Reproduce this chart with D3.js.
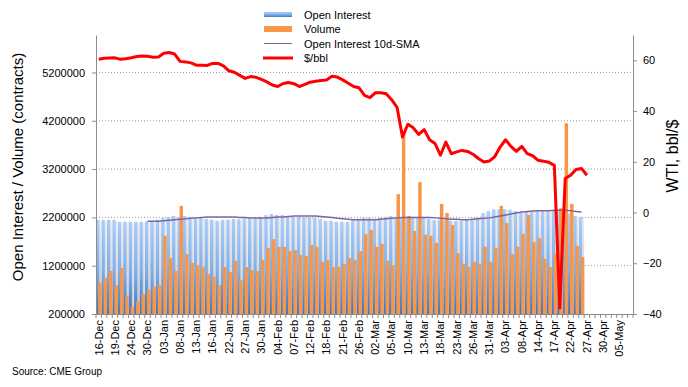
<!doctype html>
<html lang='en'>
<head>
    <meta charset='UTF-8'>
    <title>WTI open interest and volume</title>
    <style>
        body,html{
            margin: 0;
            padding: 0;
            background: #fff;
            font-family: 'Liberation Sans', Arial, sans-serif;
        }
        .axis path,
        .axis line{
            fill: none;
            stroke: #8c8c8c;
        }
        .axis text{
            fill: #000;
            font-size: 11px;
            font-family: 'Liberation Sans', Arial, sans-serif;
        }
        .grid line{
            stroke: #9a9a9a;
            stroke-dasharray: 1,2;
        }
        .legend text{
            font-size: 11px;
        }
    </style>
</head>
<body>
<script src='https://d3js.org/d3.v7.min.js'></script>
<script>
  // trading days, a label every third one
  const dates = ['16-Dec','17-Dec','18-Dec','19-Dec','20-Dec','23-Dec','24-Dec','26-Dec','27-Dec','30-Dec','31-Dec',
    '02-Jan','03-Jan','06-Jan','07-Jan','08-Jan','09-Jan','10-Jan','13-Jan','14-Jan','15-Jan','16-Jan','17-Jan','21-Jan',
    '22-Jan','23-Jan','24-Jan','27-Jan','28-Jan','29-Jan','30-Jan','31-Jan',
    '03-Feb','04-Feb','05-Feb','06-Feb','07-Feb','10-Feb','11-Feb','12-Feb','13-Feb','14-Feb','18-Feb','19-Feb','20-Feb',
    '21-Feb','24-Feb','25-Feb','26-Feb','27-Feb','28-Feb',
    '02-Mar','03-Mar','04-Mar','05-Mar','06-Mar','09-Mar','10-Mar','11-Mar','12-Mar','13-Mar','16-Mar','17-Mar','18-Mar',
    '19-Mar','20-Mar','23-Mar','24-Mar','25-Mar','26-Mar','27-Mar','30-Mar','31-Mar',
    '01-Apr','02-Apr','03-Apr','06-Apr','07-Apr','08-Apr','09-Apr','13-Apr','14-Apr','15-Apr','16-Apr','17-Apr','20-Apr',
    '21-Apr','22-Apr','23-Apr','24-Apr','27-Apr','28-Apr','29-Apr','30-Apr',
    '01-May','04-May','05-May','06-May','07-May']

  const openInterest = [2150000,2150000,2150000,2150000,2110000,2110000,2110000,2110000,2110000,2120000,
    2130000,2150000,2190000,2210000,2230000,2210000,2230000,2210000,2210000,2190000,
    2170000,2150000,2130000,2150000,2150000,2170000,2160000,2180000,2180000,2180000,
    2210000,2250000,2270000,2250000,2250000,2210000,2210000,2210000,2210000,2210000,
    2190000,2170000,2130000,2130000,2110000,2110000,2110000,2150000,2170000,2190000,
    2190000,2170000,2190000,2210000,2230000,2210000,2200000,2200000,2210000,2200000,
    2190000,2170000,2150000,2150000,2140000,2130000,2130000,2130000,2150000,2170000,
    2210000,2290000,2330000,2370000,2370000,2370000,2360000,2330000,2310000,2330000,
    2330000,2330000,2330000,2330000,2350000,2370000,2350000,2280000,2230000,2210000]

  const volume = [840000,950000,1090000,800000,1150000,570000,350000,470000,610000,700000,
    760000,800000,1820000,1360000,1090000,2440000,1440000,1260000,1210000,1170000,
    1030000,970000,800000,1170000,1070000,1300000,900000,1170000,1110000,1090000,
    1320000,1570000,1750000,1590000,1590000,1500000,1520000,1420000,1400000,1630000,
    1590000,1280000,1320000,1170000,1170000,1240000,1360000,1320000,1500000,1850000,
    1940000,1590000,1650000,1300000,1210000,2680000,3940000,2230000,1920000,2930000,
    1840000,1820000,1670000,2480000,2290000,2040000,1460000,1240000,1170000,1280000,
    1240000,1590000,1280000,1570000,2440000,2080000,1440000,1590000,1860000,2250000,
    1690000,1770000,1340000,1170000,1460000,2390000,4150000,2480000,1610000,1380000]

  const oiSma = [null,null,null,null,null,null,null,null,null,2120000,
    2120000,2120000,2130000,2140000,2150000,2160000,2170000,2180000,2190000,2200000,
    2210000,2210000,2210000,2210000,2210000,2210000,2200000,2200000,2190000,2190000,
    2190000,2190000,2200000,2210000,2210000,2220000,2230000,2230000,2230000,2230000,
    2230000,2220000,2210000,2200000,2180000,2170000,2160000,2150000,2150000,2150000,
    2150000,2150000,2160000,2170000,2180000,2190000,2200000,2200000,2200000,2200000,
    2200000,2200000,2190000,2180000,2170000,2160000,2160000,2150000,2150000,2160000,
    2170000,2180000,2190000,2210000,2230000,2250000,2270000,2290000,2310000,2320000,
    2330000,2340000,2340000,2340000,2350000,2350000,2350000,2340000,2320000,2310000]

  const wti = [60.4,60.8,60.9,61.0,60.4,60.6,61.0,61.5,61.7,61.6,
    61.2,61.3,62.8,63.1,62.5,59.6,59.4,59.0,58.1,58.1,
    58.0,58.8,58.8,57.8,55.9,55.3,54.1,52.9,53.6,53.3,
    52.5,51.5,50.3,49.7,50.9,51.3,50.8,49.7,50.5,51.4,
    51.8,52.1,52.3,53.7,53.4,52.3,51.0,49.7,49.2,46.2,
    45.3,47.2,47.2,46.8,44.5,41.5,29.8,34.8,33.4,30.8,
    32.7,28.7,27.2,22.6,27.8,23.2,23.9,24.5,24.1,23.0,
    21.3,19.9,20.3,22.0,25.8,28.7,26.1,24.1,26.1,23.2,
    22.4,20.6,20.2,19.8,18.6,-37.6,13.4,14.7,17.0,17.4,14.7]

  const leftTicks = [200000,1200000,2200000,3200000,4200000,5200000]
  const rightTicks = [-40,-20,0,20,40,60]

  const w = 688
  const h = 387
  const plot = {left: 96, right: 633, top: 35, bottom: 314}

  const x = d3.scaleBand()
    .domain(dates)
    .range([plot.left, plot.right])
  const bw = x.bandwidth()

  const yLeft = d3.scaleLinear()
    .domain([200000, 5976000])
    .range([plot.bottom, plot.top])

  const yRight = d3.scaleLinear()
    .domain([-40, 70])
    .range([plot.bottom, plot.top])

  const svg = d3.select('body').append('svg')
    .attr('width', w)
    .attr('height', h)

  const defs = svg.append('defs')
  const grad = defs.append('linearGradient')
    .attr('id', 'oiGrad')
    .attr('x1', 0).attr('y1', 0).attr('x2', 0).attr('y2', 1)
  grad.append('stop').attr('offset', '0%').attr('stop-color', '#abcdf8')
  grad.append('stop').attr('offset', '55%').attr('stop-color', '#7eaeea')
  grad.append('stop').attr('offset', '100%').attr('stop-color', '#3c76c6')

  const shadeGrad = defs.append('linearGradient')
    .attr('id', 'shadeGrad')
    .attr('x1', 0).attr('y1', 0).attr('x2', 0).attr('y2', 1)
  shadeGrad.append('stop').attr('offset', '0%').attr('stop-color', '#ececec')
  shadeGrad.append('stop').attr('offset', '100%').attr('stop-color', '#c9c9c9')

  // dotted gridlines
  svg.append('g')
    .attr('class', 'grid')
    .selectAll('line')
    .data(leftTicks.slice(1))
    .enter()
    .append('line')
    .attr('x1', plot.left)
    .attr('x2', plot.right)
    .attr('y1', d => yLeft(d))
    .attr('y2', d => yLeft(d))

  const bars = svg.append('g')
  const oiData = openInterest.map((v, i) => ({key: dates[i], value: v}))
  const volData = volume.map((v, i) => ({key: dates[i], value: v}))

  // soft shadow to the right of the open interest bars
  bars.selectAll('.shade')
    .data(oiData)
    .enter()
    .append('rect')
    .attr('x', d => x(d.key) + bw * 0.35)
    .attr('y', d => yLeft(d.value) + 1)
    .attr('width', bw * 0.62)
    .attr('height', d => plot.bottom - yLeft(d.value) - 1)
    .style('fill', 'url(#shadeGrad)')

  bars.selectAll('.oi')
    .data(oiData)
    .enter()
    .append('rect')
    .attr('class', 'oi')
    .attr('x', d => x(d.key) + bw * 0.02)
    .attr('y', d => yLeft(d.value))
    .attr('width', bw * 0.6)
    .attr('height', d => plot.bottom - yLeft(d.value))
    .style('fill', 'url(#oiGrad)')

  bars.selectAll('.vol')
    .data(volData)
    .enter()
    .append('rect')
    .attr('class', 'vol')
    .attr('x', d => x(d.key) + bw * 0.4)
    .attr('y', d => yLeft(d.value))
    .attr('width', bw * 0.64)
    .attr('height', d => plot.bottom - yLeft(d.value))
    .style('fill', '#f79646')

  const cx = i => x(dates[i]) + bw / 2

  const smaLine = d3.line()
    .defined(d => d !== null)
    .x((d, i) => cx(i))
    .y(d => yLeft(d))

  svg.append('path')
    .datum(oiSma)
    .attr('d', smaLine)
    .style('fill', 'none')
    .style('stroke', '#8064a2')
    .style('stroke-width', 1.5)

  const priceLine = d3.line()
    .x((d, i) => cx(i))
    .y(d => yRight(d))

  svg.append('path')
    .datum(wti)
    .attr('d', priceLine)
    .style('fill', 'none')
    .style('stroke', '#ff0000')
    .style('stroke-width', 3)
    .style('stroke-linejoin', 'round')

  // axes
  svg.append('g')
    .attr('class', 'axis')
    .attr('transform', `translate(${plot.left},0)`)
    .call(d3.axisLeft(yLeft).tickValues(leftTicks).tickSize(4).tickSizeOuter(0).tickPadding(7).tickFormat(d3.format('d')))

  svg.append('g')
    .attr('class', 'axis')
    .attr('transform', `translate(${plot.right},0)`)
    .call(d3.axisRight(yRight).tickValues(rightTicks).tickSize(4).tickSizeOuter(0).tickPadding(6))

  const xAxis = svg.append('g')
    .attr('class', 'axis')
    .attr('transform', `translate(0,${plot.bottom})`)
    .call(d3.axisBottom(x).tickValues(dates.filter((d, i) => i % 3 === 0)).tickSize(0).tickSizeOuter(0))

  xAxis.selectAll('text')
    .style('text-anchor', 'end')
    .attr('x', -6)
    .attr('y', 0)
    .attr('dy', '0.35em')
    .attr('transform', 'rotate(-90)')

  // tick marks between categories
  xAxis.selectAll('.sep')
    .data(dates.concat(['end']))
    .enter()
    .append('line')
    .attr('x1', (d, i) => plot.left + i * bw)
    .attr('x2', (d, i) => plot.left + i * bw)
    .attr('y1', 0)
    .attr('y2', 4)

  // axis titles
  svg.append('text')
    .attr('transform', 'translate(23,167) rotate(-90)')
    .style('text-anchor', 'middle')
    .style('font-size', '15px')
    .text('Open Interest / Volume (contracts)')

  svg.append('text')
    .attr('transform', 'translate(678,156) rotate(-90)')
    .style('text-anchor', 'middle')
    .style('font-size', '16px')
    .text('WTI, bbl/$')

  svg.append('text')
    .attr('x', 12)
    .attr('y', 375)
    .style('font-size', '10px')
    .text('Source: CME Group')

  // legend
  const legend = svg.append('g').attr('class', 'legend')
  const items = [
    {name: 'Open Interest', y: 14.5},
    {name: 'Volume', y: 29},
    {name: 'Open Interest 10d-SMA', y: 43.5},
    {name: '$/bbl', y: 58}
  ]
  legend.append('rect').attr('x', 264).attr('y', items[0].y - 2.5).attr('width', 28).attr('height', 5).style('fill', 'url(#oiGrad)')
  legend.append('rect').attr('x', 264).attr('y', items[1].y - 3).attr('width', 28).attr('height', 6).style('fill', '#f79646')
  legend.append('line').attr('x1', 264).attr('x2', 292).attr('y1', items[2].y).attr('y2', items[2].y)
    .style('stroke', '#8064a2').style('stroke-width', 1)
  legend.append('line').attr('x1', 263).attr('x2', 293).attr('y1', items[3].y).attr('y2', items[3].y)
    .style('stroke', '#ff0000').style('stroke-width', 3)
  legend.selectAll('text')
    .data(items)
    .enter()
    .append('text')
    .attr('x', 304)
    .attr('y', d => d.y + 4)
    .text(d => d.name)
</script>
</body>
</html>
